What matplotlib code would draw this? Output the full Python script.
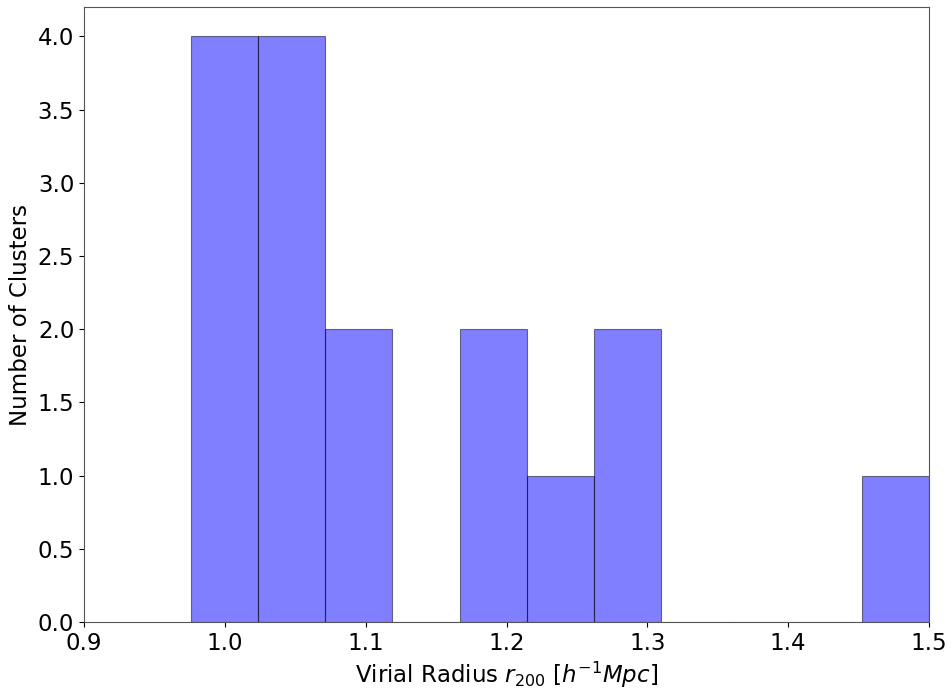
import matplotlib
matplotlib.use("Agg")
import matplotlib.pyplot as plt
import numpy as np

# histogram bin edges and counts
bin_edges = [0.9762, 1.0238, 1.0714, 1.1190, 1.1667, 1.2143, 1.2619,
             1.3095, 1.3571, 1.4048, 1.4524, 1.5]
counts = [4, 4, 2, 0, 2, 1, 2, 0, 0, 0, 1]

xticks = [0.9, 1.0, 1.1, 1.2, 1.3, 1.4, 1.5]

fig = plt.figure(figsize=(9.52, 6.9), dpi=100)
ax = fig.add_axes([84 / 952, 1 - 622 / 690, 845 / 952, 615 / 690])

centers = (np.array(bin_edges[:-1]) + np.array(bin_edges[1:])) / 2
ax.hist(centers, bins=bin_edges, weights=counts, color="blue", alpha=0.5,
        edgecolor="black", linewidth=0.8)

ax.set_xlim(0.9, 1.5)
ax.set_xticks(xticks)
ax.set_yticks(np.arange(0, 4.01, 0.5))
ax.tick_params(labelsize=16.5)
ax.set_xlabel(r"Virial Radius $r_{200}$ [$h^{-1}Mpc$]", fontsize=16.5)
ax.set_ylabel("Number of Clusters", fontsize=16.5)
for s in ax.spines.values():
    s.set_color("#555555")

fig.savefig("out.png", dpi=100)
